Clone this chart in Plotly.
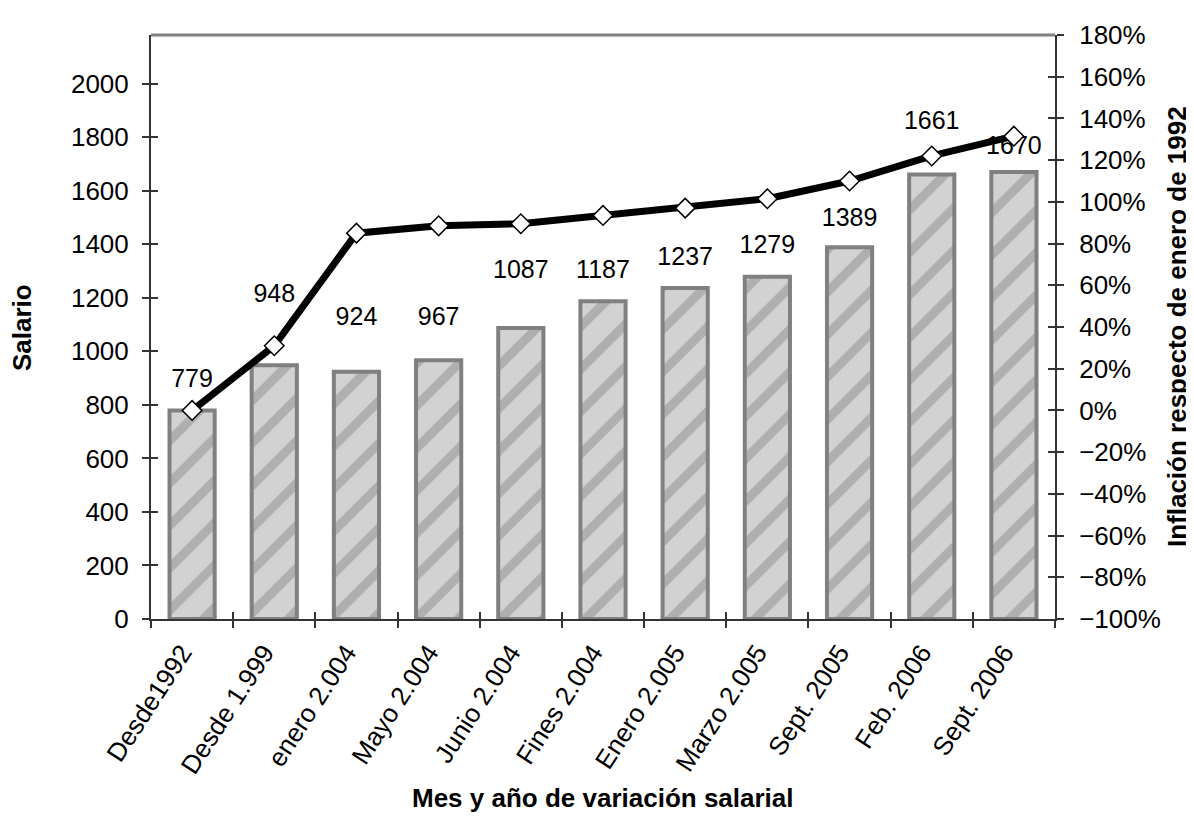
import plotly.graph_objects as go

# ---- data ----
categories = ["Desde1992", "Desde 1.999", "enero 2.004", "Mayo 2.004", "Junio 2.004",
              "Fines 2.004", "Enero 2.005", "Marzo 2.005", "Sept. 2005", "Feb. 2006", "Sept. 2006"]
salario = [779, 948, 924, 967, 1087, 1187, 1237, 1279, 1389, 1661, 1670]
inflacion = [0.00, 0.31, 0.85, 0.885, 0.895, 0.935, 0.97, 1.015, 1.10, 1.22, 1.315]
label_y = [891, 1208, 1123, 1123, 1297, 1297, 1345, 1390, 1493, 1855, 1759]

left_range = [0, 2182]
right_range = [-1.0, 1.8]

FONT = "Liberation Sans, Arial, sans-serif"
AX = "#333333"

fig = go.Figure()

fig.add_trace(go.Bar(
    x=categories, y=salario, width=0.55,
    marker=dict(color="#c6c6c6",
                line=dict(color="#808080", width=4),
                pattern=dict(shape="/", fgcolor="#8c8c8c", bgcolor="#d2d2d2",
                             size=30, solidity=0.3)),
    xaxis="x", yaxis="y", hoverinfo="skip", showlegend=False))

fig.add_trace(go.Scatter(
    x=categories, y=label_y, text=[str(v) for v in salario], mode="text",
    textfont=dict(family=FONT, size=25, color="black"),
    xaxis="x", yaxis="y3", hoverinfo="skip", showlegend=False))

fig.add_trace(go.Scatter(
    x=categories, y=inflacion, mode="lines+markers",
    line=dict(color="black", width=7),
    marker=dict(symbol="diamond", size=15, color="white", line=dict(color="black", width=1.5)),
    xaxis="x2", yaxis="y2", showlegend=False))

fig.add_trace(go.Scatter(
    x=categories, y=inflacion, mode="markers", marker=dict(opacity=0),
    xaxis="x", yaxis="y4", hoverinfo="skip", showlegend=False))

common_tick = dict(tickcolor=AX, tickwidth=1.5, ticklen=7)

fig.update_layout(
    width=1186, height=813,
    margin=dict(l=143, r=139, t=20, b=202),
    paper_bgcolor="white", plot_bgcolor="white",
    font=dict(family=FONT, size=26, color="black"),
    bargap=0.45,
    xaxis=dict(type="category", categoryorder="array", categoryarray=categories,
               range=[-0.5, 10.5], tickson="boundaries", ticks="outside",
               showline=True, linecolor=AX, linewidth=2, tickangle=-57,
               tickfont=dict(size=26), ticklabelstandoff=6, ticklabelshift=-10,
               showgrid=False, **common_tick),
    xaxis2=dict(type="category", categoryorder="array", categoryarray=categories,
                range=[-0.5, 10.5], tickson="boundaries", ticks="inside",
                overlaying="x", anchor="y", side="bottom", showline=False,
                showticklabels=False, showgrid=False, **common_tick),
    yaxis=dict(range=left_range, dtick=200, ticks="outside", showline=True,
               linecolor=AX, linewidth=2, showgrid=False, zeroline=False,
               tickfont=dict(size=26), ticklabelstandoff=8, **common_tick),
    yaxis3=dict(range=left_range, dtick=200, ticks="inside", overlaying="y",
                anchor="x", side="left", showline=False, showgrid=False,
                zeroline=False, showticklabels=False, **common_tick),
    yaxis2=dict(range=right_range, dtick=0.2, tickformat=".0%", ticks="outside",
                overlaying="y", anchor="x2", side="right", showline=True,
                linecolor=AX, linewidth=2, showgrid=False, zeroline=False,
                tickfont=dict(size=26), ticklabelstandoff=10, **common_tick),
    yaxis4=dict(range=right_range, dtick=0.2, ticks="inside", overlaying="y",
                anchor="x", side="right", showline=False, showgrid=False,
                zeroline=False, showticklabels=False, **common_tick),
    shapes=[dict(type="line", xref="paper", yref="paper", x0=0, x1=1, y0=1, y1=1,
                 line=dict(color="#808080", width=3))],
    annotations=[
        dict(text="<b>Mes y año de variación salarial</b>", xref="paper", yref="paper",
             x=0.5, y=-0.306, yanchor="middle", showarrow=False, font=dict(size=26)),
        dict(text="<b>Salario</b>", xref="paper", yref="paper", x=-0.1427, y=0.5,
             xanchor="center", yanchor="middle", textangle=-90, showarrow=False,
             font=dict(size=26)),
        dict(text="<b>Inflación respecto de enero de 1992</b>", xref="paper", yref="paper",
             x=1.135, y=0.5, xanchor="center", yanchor="middle", textangle=-90,
             showarrow=False, font=dict(size=26)),
    ],
)

fig.write_html("out.html")
